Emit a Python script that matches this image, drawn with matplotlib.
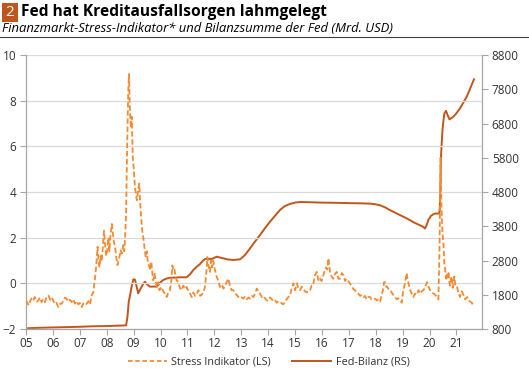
import matplotlib
matplotlib.use("Agg")
import matplotlib.pyplot as plt
from matplotlib.lines import Line2D
import matplotlib.patches as mpatches

plt.rcParams['font.family'] = ['Open Sans', 'DejaVu Sans']

# ---- data (decimal years) ----
stress_dates = [
    2005.00, 2005.05, 2005.10, 2005.15, 2005.22, 2005.28, 2005.33, 2005.40, 2005.46, 2005.52,
    2005.58, 2005.64, 2005.70, 2005.76, 2005.83, 2005.90, 2005.95, 2006.01, 2006.07, 2006.13,
    2006.20, 2006.26, 2006.33, 2006.39, 2006.45, 2006.51, 2006.57, 2006.63, 2006.70, 2006.76,
    2006.82, 2006.88, 2006.94, 2007.00, 2007.07, 2007.13, 2007.19, 2007.26, 2007.32, 2007.38,
    2007.44, 2007.50, 2007.57, 2007.62, 2007.66, 2007.69, 2007.73, 2007.77, 2007.81, 2007.85,
    2007.90, 2007.94, 2007.98, 2008.02, 2008.06, 2008.10, 2008.14, 2008.19, 2008.23, 2008.27,
    2008.31, 2008.36, 2008.40, 2008.43, 2008.48, 2008.52, 2008.56, 2008.61, 2008.65, 2008.68,
    2008.72, 2008.76, 2008.80, 2008.83, 2008.85, 2008.87, 2008.90, 2008.93, 2008.95, 2008.97,
    2009.01, 2009.05, 2009.09, 2009.12, 2009.17, 2009.21, 2009.24, 2009.28, 2009.32, 2009.36,
    2009.41, 2009.45, 2009.49, 2009.53, 2009.57, 2009.61, 2009.66, 2009.70, 2009.73, 2009.78,
    2009.82, 2009.86, 2009.91, 2009.96, 2010.04, 2010.10, 2010.16, 2010.23, 2010.29, 2010.35,
    2010.40, 2010.44, 2010.48, 2010.52, 2010.56, 2010.60, 2010.66, 2010.72, 2010.79, 2010.85,
    2010.91, 2010.97, 2011.04, 2011.10, 2011.16, 2011.22, 2011.29, 2011.35, 2011.41, 2011.47,
    2011.53, 2011.59, 2011.65, 2011.70, 2011.74, 2011.78, 2011.84, 2011.88, 2011.92, 2011.96,
    2012.02, 2012.09, 2012.15, 2012.21, 2012.28, 2012.34, 2012.40, 2012.46, 2012.52, 2012.58,
    2012.64, 2012.71, 2012.77, 2012.83, 2012.89, 2012.95, 2013.02, 2013.08, 2013.14, 2013.20,
    2013.27, 2013.33, 2013.39, 2013.45, 2013.52, 2013.58, 2013.64, 2013.70, 2013.76, 2013.82,
    2013.88, 2013.95, 2014.01, 2014.07, 2014.14, 2014.20, 2014.26, 2014.32, 2014.38, 2014.45,
    2014.51, 2014.57, 2014.63, 2014.69, 2014.75, 2014.81, 2014.88, 2014.94, 2015.00, 2015.07,
    2015.13, 2015.19, 2015.25, 2015.31, 2015.37, 2015.43, 2015.50, 2015.56, 2015.62, 2015.67,
    2015.74, 2015.81, 2015.87, 2015.93, 2015.99, 2016.04, 2016.10, 2016.15, 2016.20, 2016.24,
    2016.30, 2016.36, 2016.42, 2016.48, 2016.55, 2016.61, 2016.67, 2016.74, 2016.80, 2016.86,
    2016.92, 2016.98, 2017.04, 2017.11, 2017.17, 2017.23, 2017.29, 2017.35, 2017.42, 2017.48,
    2017.54, 2017.60, 2017.66, 2017.72, 2017.79, 2017.85, 2017.91, 2017.98, 2018.04, 2018.10,
    2018.16, 2018.22, 2018.27, 2018.31, 2018.35, 2018.39, 2018.42, 2018.48, 2018.53, 2018.59,
    2018.65, 2018.71, 2018.78, 2018.84, 2018.90, 2018.97, 2019.01, 2019.05, 2019.10, 2019.15,
    2019.18, 2019.22, 2019.28, 2019.34, 2019.40, 2019.46, 2019.53, 2019.59, 2019.65, 2019.71,
    2019.77, 2019.83, 2019.90, 2019.96, 2020.02, 2020.08, 2020.15, 2020.21, 2020.27, 2020.33,
    2020.37, 2020.41, 2020.44, 2020.48, 2020.52, 2020.55, 2020.58, 2020.62, 2020.65, 2020.68,
    2020.71, 2020.74, 2020.77, 2020.80, 2020.83, 2020.86, 2020.89, 2020.92, 2020.96, 2021.01,
    2021.07, 2021.13, 2021.20, 2021.26, 2021.32, 2021.40, 2021.46, 2021.51, 2021.57, 2021.63,
]
stress_values = [
    -0.75, -0.85, -0.96, -0.80, -0.62, -0.72, -0.60, -0.80, -0.75, -0.62,
    -0.82, -0.70, -0.82, -0.60, -0.53, -0.72, -0.62, -0.75, -0.90, -0.85,
    -1.04, -0.90, -0.89, -0.75, -0.62, -0.67, -0.80, -0.72, -0.82, -0.70,
    -0.89, -0.78, -0.92, -0.86, -1.04, -0.88, -0.95, -0.89, -0.78, -0.92,
    -0.53, -0.40, 0.28, 0.90, 1.60, 1.10, 0.70, 1.20, 0.95, 1.50,
    2.30, 1.70, 1.20, 1.45, 2.00, 1.40, 2.10, 2.60, 2.20, 1.80,
    1.60, 1.10, 0.80, 0.95, 1.20, 1.45, 1.30, 1.67, 1.40, 1.90,
    3.05, 6.00, 8.40, 9.17, 8.10, 7.44, 6.80, 7.30, 6.30, 5.50,
    4.96, 4.20, 3.90, 3.64, 4.10, 4.37, 3.60, 2.90, 2.30, 2.00,
    1.50, 1.15, 1.40, 0.90, 0.80, 0.57, 0.95, 0.40, 0.13, 0.42,
    0.10, -0.16, 0.05, -0.30, -0.16, -0.35, -0.45, -0.60, -0.40, -0.30,
    0.10, 0.79, 0.55, 0.60, 0.30, 0.13, 0.05, -0.20, -0.30, -0.10,
    -0.25, -0.16, -0.35, -0.45, -0.60, -0.40, -0.55, -0.45, -0.30, -0.55,
    -0.50, -0.40, -0.16, 0.40, 1.15, 0.80, 0.50, 1.00, 0.70, 1.00,
    0.60, 0.28, 0.10, -0.16, -0.05, -0.23, -0.10, 0.05, 0.20, -0.10,
    -0.30, -0.30, -0.45, -0.50, -0.60, -0.55, -0.62, -0.67, -0.58, -0.70,
    -0.62, -0.67, -0.55, -0.60, -0.45, -0.23, -0.35, -0.45, -0.60, -0.55,
    -0.65, -0.75, -0.75, -0.62, -0.70, -0.80, -0.75, -0.85, -0.78, -0.82,
    -0.88, -0.92, -0.80, -0.70, -0.60, -0.55, -0.20, 0.00, -0.30, 0.00,
    -0.25, -0.30, -0.15, -0.25, -0.35, -0.40, -0.30, -0.30, -0.10, -0.10,
    0.35, 0.50, 0.10, 0.20, 0.10, 0.30, 0.55, 0.70, 0.60, 1.10,
    0.50, 0.30, 0.20, 0.40, 0.50, 0.20, 0.20, 0.45, 0.35, 0.10,
    0.20, 0.10, 0.00, -0.15, -0.25, -0.30, -0.40, -0.45, -0.55, -0.50,
    -0.60, -0.55, -0.70, -0.60, -0.60, -0.72, -0.70, -0.68, -0.75, -0.70,
    -0.80, -0.50, -0.30, 0.05, 0.05, -0.15, -0.15, -0.25, -0.25, -0.40,
    -0.50, -0.60, -0.70, -0.65, -0.75, -0.85, -0.40, -0.20, 0.10, 0.45,
    0.20, 0.00, -0.30, -0.45, -0.60, -0.45, -0.50, -0.30, -0.45, -0.35,
    -0.30, -0.20, 0.05, -0.15, -0.30, -0.40, -0.45, -0.50, -0.60, -0.70,
    1.50, 5.50, 3.50, 2.20, 1.65, 0.90, 0.60, 0.20, 0.40, 0.25,
    0.45, 0.00, -0.10, 0.20, 0.30, -0.20, 0.00, 0.30, -0.10, -0.10,
    -0.40, -0.60, -0.35, -0.50, -0.70, -0.60, -0.75, -0.80, -0.85, -1.00,
]

fed_dates = [
    2005.00, 2005.50, 2006.00, 2006.50, 2007.00, 2007.50, 2008.00, 2008.50, 2008.72, 2008.77,
    2008.82, 2008.87, 2008.93, 2008.99, 2009.05, 2009.11, 2009.17, 2009.24, 2009.30, 2009.36,
    2009.42, 2009.50, 2009.61, 2009.74, 2009.86, 2009.98, 2010.10, 2010.22, 2010.35, 2010.50,
    2010.72, 2010.97, 2011.10, 2011.22, 2011.35, 2011.47, 2011.56, 2011.65, 2011.78, 2011.90,
    2012.09, 2012.33, 2012.50, 2012.71, 2012.96, 2013.14, 2013.33, 2013.50, 2013.70, 2013.88,
    2014.07, 2014.25, 2014.44, 2014.62, 2014.81, 2015.00, 2015.19, 2015.60, 2016.00, 2016.50,
    2017.00, 2017.40, 2017.80, 2018.00, 2018.16, 2018.35, 2018.53, 2018.84, 2019.15, 2019.45,
    2019.77, 2019.83, 2019.90, 2019.96, 2020.05, 2020.14, 2020.20, 2020.33, 2020.37, 2020.40,
    2020.42, 2020.45, 2020.48, 2020.52, 2020.55, 2020.61, 2020.67, 2020.74, 2020.82, 2020.89,
    2021.00, 2021.13, 2021.25, 2021.38, 2021.50, 2021.65,
]
fed_values = [
    820, 835, 845, 855, 865, 880, 885, 900, 905, 1150,
    1600, 1793, 2050, 2251, 2240, 2050, 1842, 1950, 2036, 2120,
    2181, 2100, 2036, 2040, 2036, 2150, 2231, 2270, 2298, 2300,
    2310, 2310, 2400, 2523, 2620, 2698, 2780, 2844, 2850, 2844,
    2911, 2864, 2830, 2815, 2835, 2961, 3156, 3340, 3545, 3740,
    3933, 4100, 4275, 4390, 4450, 4490, 4508, 4500, 4490, 4485,
    4475, 4470, 4460, 4440, 4413, 4350, 4270, 4150, 4030, 3900,
    3780, 3733, 3850, 3990, 4100, 4150, 4170, 4170, 4200, 4700,
    5730, 6200, 6600, 6900, 7090, 7170, 7050, 6920, 6960, 7000,
    7100, 7240, 7400, 7580, 7800, 8090,
]

left_ticks = [-2, 0, 2, 4, 6, 8, 10]
right_ticks = [800, 1800, 2800, 3800, 4800, 5800, 6800, 7800, 8800]
year_ticks = list(range(2005, 2022))
year_labels = [f"{y % 100:02d}" for y in year_ticks]

title = "Fed hat Kreditausfallsorgen lahmgelegt"
subtitle = "Finanzmarkt-Stress-Indikator* und Bilanzsumme der Fed (Mrd. USD)"
label_stress = "Stress Indikator (LS)"
label_fed = "Fed-Bilanz (RS)"

# ---- styling ----
c_stress = "#F58A32"
c_fed = "#C0561B"
c_box = "#C0561B"
c_grid = "#D9D9D9"
c_axis = "#A6A6A6"
c_text = "#333333"

fig = plt.figure(figsize=(5.29, 3.77), dpi=100)
ax = fig.add_axes([26/529, 1-329/377, (482-26)/529, (329-55)/377])
ax2 = ax.twinx()

ax.plot(stress_dates, stress_values, color=c_stress, lw=1.3, ls=(0, (3, 1.5)), zorder=3)
ax2.plot(fed_dates, fed_values, color=c_fed, lw=1.4, zorder=4)

ax.set_zorder(ax2.get_zorder() + 1)
ax.patch.set_visible(False)

ax.set_xlim(2005, 2021.95)
ax.set_ylim(-2, 10)
ax2.set_ylim(800, 8800)
ax.set_yticks(left_ticks)
ax2.set_yticks(right_ticks)
ax.set_xticks(year_ticks)
ax.set_xticklabels(year_labels)

ax.grid(axis='y', color=c_grid, lw=0.9, zorder=0)
ax.set_axisbelow(True)

for a in (ax, ax2):
    a.spines['top'].set_visible(False)
    for s in ('left', 'right', 'bottom'):
        a.spines[s].set_color(c_axis)
        a.spines[s].set_linewidth(0.9)
ax.spines['right'].set_visible(False)
ax2.spines['left'].set_visible(False)
ax2.spines['bottom'].set_visible(False)

ax.tick_params(axis='y', length=4, width=0.8, color=c_axis, labelsize=8.5, labelcolor=c_text, pad=3)
ax.tick_params(axis='x', length=4, width=0.8, color=c_axis, labelsize=8.5, labelcolor=c_text, pad=2)
ax2.tick_params(axis='y', length=4, width=0.8, color=c_axis, labelsize=8.5, labelcolor=c_text, pad=3)

# legend
handles = [Line2D([0], [0], color=c_stress, lw=1.3, ls=(0, (2.5, 1.5))),
           Line2D([0], [0], color=c_fed, lw=1.4)]
fig.legend(handles, [label_stress, label_fed], loc='center', bbox_to_anchor=(268.5/529, 1-362/377),
           ncol=2, frameon=False, fontsize=7.8, handlelength=3.6, columnspacing=1.9,
           handletextpad=0.45, labelcolor=c_text)

# title block
fig.patches.append(mpatches.Rectangle((2/529, 1-22/377), 16/529, 19/377, transform=fig.transFigure,
                                      facecolor=c_box, edgecolor='none'))
fig.text(10/529, 1-12.5/377, "2", color='white', fontsize=11, ha='center', va='center')
fig.text(21/529, 1-12.5/377, title, color='black', fontsize=11.2, fontweight='bold', ha='left', va='center')
fig.text(2/529, 1-28/377, subtitle, color='black', fontsize=9.4, style='italic', ha='left', va='center')
fig.add_artist(Line2D([0, 1], [1-37/377, 1-37/377], transform=fig.transFigure, color='#404040', lw=0.8))

fig.savefig("out.png", dpi=100)
